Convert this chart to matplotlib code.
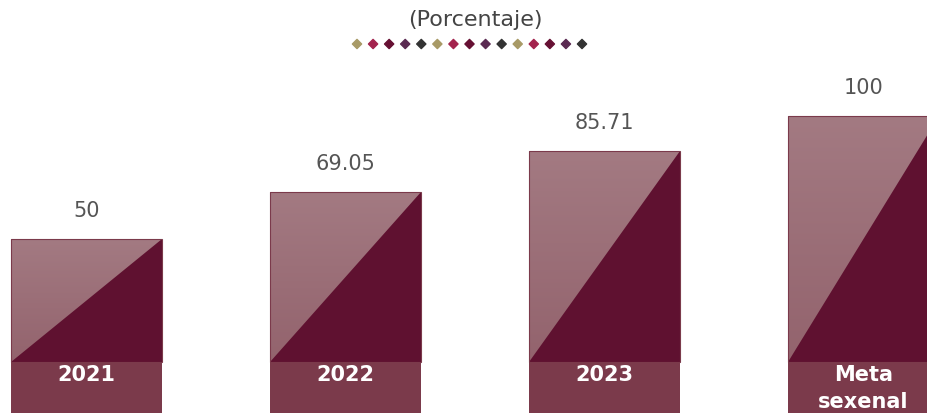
import matplotlib
matplotlib.use("Agg")
import matplotlib.pyplot as plt
from matplotlib.patches import Polygon, Rectangle
import numpy as np


plt.rcParams.update(
    {
        "font.family": ["DejaVu Sans"],
        "figure.facecolor": "white",
        "axes.facecolor": "white",
    }
)

# data
CATEGORIES = ["2021", "2022", "2023", "Meta\nsexenal"]
VALUES = [50, 69.05, 85.71, 100]
VALUE_LABELS = ["50", "69.05", "85.71", "100"]
SUBTITLE = "(Porcentaje)"
DIAMOND_COLORS = ["#a89a66", "#a3234d", "#661033", "#5b2a52", "#333333"] * 3

LIGHT_TOP = np.array([0xa3, 0x7a, 0x82]) / 255
LIGHT_BOT = np.array([0x93, 0x63, 0x6d]) / 255
DARK = "#5f1130"
LABEL_BOX = "#7b3a4b"

W, H = 927, 413
BASE_PX = 51          # baseline, pixels from bottom
PX_PER_UNIT = 2.46
STEP_PX = 259
FIRST_PX = 86.5
BAR_W = 151 / STEP_PX
LINE_PX = 27


def px_to_val(px_from_top):
    return (H - px_from_top - BASE_PX) / PX_PER_UNIT


def main():
    fig = plt.figure(figsize=(W / 100, H / 100), dpi=100)
    ax = fig.add_axes([0, 0, 1, 1])
    ax.set_xlim(-FIRST_PX / STEP_PX, (W - FIRST_PX) / STEP_PX)
    ax.set_ylim(-BASE_PX / PX_PER_UNIT, (H - BASE_PX) / PX_PER_UNIT)
    ax.axis("off")

    grad = np.linspace(0, 1, 256)[:, None]
    img = LIGHT_TOP[None, None, :] * (1 - grad[..., None]) + LIGHT_BOT[None, None, :] * grad[..., None]

    ymin = ax.get_ylim()[0]
    for i, (cat, v, lab) in enumerate(zip(CATEGORIES, VALUES, VALUE_LABELS)):
        x0 = i - BAR_W / 2
        x1 = i + BAR_W / 2
        # light gradient part
        im = ax.imshow(img, extent=(x0, x1, 0, v), aspect="auto", zorder=1, interpolation="bilinear")
        clip = Rectangle((x0, 0), BAR_W, v, transform=ax.transData)
        im.set_clip_path(clip)
        ax.add_patch(Rectangle((x0, 0), BAR_W, v, fill=False, edgecolor=LABEL_BOX, lw=0.8, zorder=3))
        # dark lower-right triangle
        ax.add_patch(Polygon([(x0, 0), (x1, 0), (x1, v)], closed=True, facecolor=DARK, edgecolor="none", zorder=2))
        # category box
        ax.add_patch(Rectangle((x0, ymin - 5), BAR_W, -ymin + 5, facecolor=LABEL_BOX, edgecolor="none", zorder=2))
        for k, line in enumerate(cat.split("\n")):
            ax.text(i, px_to_val(375 + LINE_PX * k), line, ha="center", va="center", color="white",
                    fontsize=15, fontweight="bold", zorder=4)
        ax.text(i, v + 11.5, lab, ha="center", va="center", color="#555555", fontsize=15, zorder=4)

    fig.text(475 / W, 1 - 20 / H, SUBTITLE, ha="center", va="center", color="#444444", fontsize=16)
    xs = np.linspace(357, 582, len(DIAMOND_COLORS)) / W
    ys = np.full(len(xs), 1 - 44 / H)
    ax.scatter(xs, ys, marker="D", s=22, c=DIAMOND_COLORS, transform=fig.transFigure, clip_on=False, zorder=5)

    fig.savefig("out.png", dpi=100)


if __name__ == "__main__":
    main()
